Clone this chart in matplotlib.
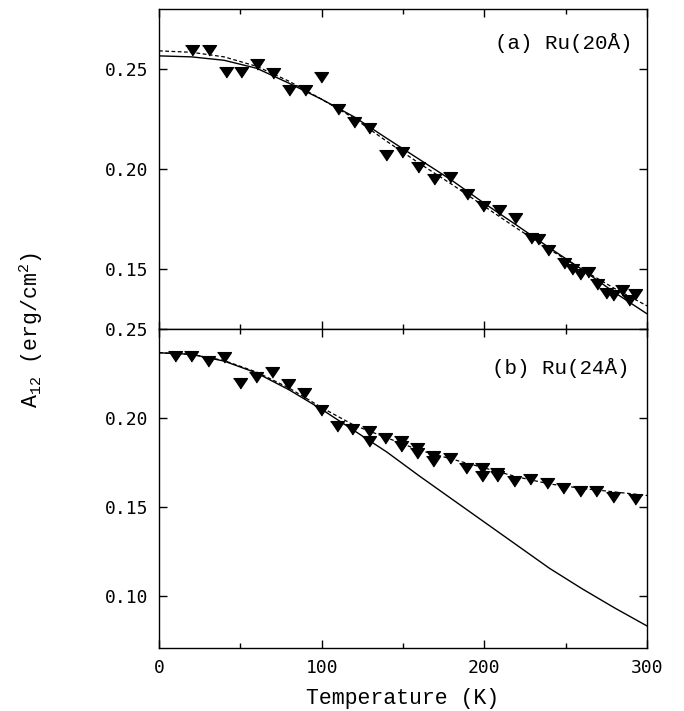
import matplotlib
matplotlib.use('Agg')
import matplotlib.pyplot as plt
from matplotlib.ticker import MultipleLocator

# (a) Ru(20A) measured points
temp_a = [20.5, 30.7, 41.2, 50.4, 60.4, 70.3, 80.1, 89.7, 99.6, 109.8, 119.9, 129.3,
          139.5, 149.5, 159.4, 169.2, 178.9, 189.1, 199.0, 209.0, 218.8, 228.6, 233.1,
          239.3, 248.9, 253.7, 258.8, 263.5, 269.0, 274.5, 279.2, 284.4, 289.0, 292.6]
a12_a = [0.2595, 0.2595, 0.2487, 0.2487, 0.2528, 0.2482, 0.2398, 0.2398, 0.2462, 0.2303,
         0.2237, 0.2208, 0.2070, 0.2087, 0.2012, 0.1950, 0.1962, 0.1878, 0.1815, 0.1798,
         0.1758, 0.1658, 0.1653, 0.1595, 0.1533, 0.1503, 0.1478, 0.1487, 0.1428, 0.1383,
         0.1370, 0.1395, 0.1345, 0.1375]

# (b) Ru(24A) measured points
temp_b = [9.8, 19.7, 30.3, 40.0, 49.8, 59.6, 69.5, 79.1, 89.1, 99.5, 109.4, 118.9, 128.8,
          128.8, 138.9, 148.5, 148.5, 158.4, 158.4, 168.6, 168.6, 178.6, 188.6, 198.3,
          198.3, 207.8, 207.8, 217.9, 228.2, 238.3, 248.3, 258.5, 268.8, 279.0, 292.3]
a12_b = [0.2349, 0.2353, 0.2321, 0.2346, 0.2199, 0.2231, 0.2261, 0.2195, 0.2143, 0.2045,
         0.1959, 0.1938, 0.1928, 0.1873, 0.1889, 0.1870, 0.1842, 0.1833, 0.1805, 0.1785,
         0.1757, 0.1776, 0.1720, 0.1720, 0.1673, 0.1690, 0.1673, 0.1644, 0.1658, 0.1635,
         0.1607, 0.1588, 0.1590, 0.1557, 0.1547]

temp_fit = [0, 20, 40, 60, 80, 100, 120, 140, 160, 180, 200, 220, 240, 260, 280, 300]
solid_a = [0.2567, 0.2562, 0.2545, 0.2505, 0.2430, 0.2350, 0.2262, 0.2155, 0.2050,
           0.1945, 0.1830, 0.1720, 0.1608, 0.1500, 0.1385, 0.1278]
dash_a = [0.2592, 0.2585, 0.2562, 0.2515, 0.2440, 0.2350, 0.2255, 0.2140, 0.2030,
          0.1925, 0.1815, 0.1705, 0.1600, 0.1500, 0.1405, 0.1318]
solid_b = [0.2369, 0.2360, 0.2322, 0.2255, 0.2160, 0.2050, 0.1930, 0.1810, 0.1675,
           0.1545, 0.1415, 0.1285, 0.1155, 0.1040, 0.0932, 0.0830]
dash_b = [0.2369, 0.2360, 0.2325, 0.2260, 0.2170, 0.2060, 0.1960, 0.1890, 0.1820,
          0.1770, 0.1720, 0.1670, 0.1630, 0.1605, 0.1585, 0.1565]

tri = [(-1, 0.7), (1, 0.7), (0, -0.8)]
mono = 'Liberation Mono'

fig = plt.figure(figsize=(6.84, 7.11), dpi=100)
ax1 = fig.add_axes([0.2325, 0.5366, 0.7135, 0.4504])
ax2 = fig.add_axes([0.2325, 0.0886, 0.7135, 0.4480], sharex=ax1)

for ax, tx, ty, ts, td in [(ax1, temp_a, a12_a, solid_a, dash_a),
                           (ax2, temp_b, a12_b, solid_b, dash_b)]:
    ax.plot(tx, ty, linestyle='none', marker=tri, markersize=10, color='black')
    ax.plot(temp_fit, ts, '-', color='black', lw=1.0)
    ax.plot(temp_fit, td, '--', color='black', lw=0.9, dashes=(3, 2))
    ax.xaxis.set_major_locator(MultipleLocator(100))
    ax.xaxis.set_minor_locator(MultipleLocator(50))
    ax.yaxis.set_major_locator(MultipleLocator(0.05))
    ax.tick_params(which='both', direction='in', top=True, right=True, width=1.0)
    ax.tick_params(which='major', length=6, pad=8)
    ax.tick_params(which='minor', length=3.5)
    for lab in ax.get_xticklabels() + ax.get_yticklabels():
        lab.set_fontfamily('DejaVu Sans Mono')
        lab.set_fontsize(13)
    for s in ax.spines.values():
        s.set_linewidth(1.0)

ax1.set_xlim(0, 300)
ax1.set_ylim(0.12, 0.28)
ax1.set_yticks([0.15, 0.20, 0.25])
ax2.set_ylim(0.0706, 0.25)
ax2.set_yticks([0.10, 0.15, 0.20, 0.25])
plt.setp(ax1.get_xticklabels(), visible=False)
ax1.yaxis.set_major_formatter(matplotlib.ticker.FormatStrFormatter('%.2f'))
ax2.yaxis.set_major_formatter(matplotlib.ticker.FormatStrFormatter('%.2f'))

ax1.text(0.971, 0.895, '(a) Ru(20Å)', transform=ax1.transAxes, ha='right', va='center',
         family=mono, fontsize=15)
ax2.text(0.965, 0.879, '(b) Ru(24Å)', transform=ax2.transAxes, ha='right', va='center',
         family=mono, fontsize=15)

ax2.set_xlabel('Temperature (K)', family=mono, fontsize=15.5, labelpad=8)
fig.text(0.046, 0.536, r'A$_{\mathregular{12}}$ (erg/cm$^{\mathregular{2}}$)', rotation=90,
         ha='center', va='center', family=mono, fontsize=15.5)

fig.savefig('out.png', dpi=100)
